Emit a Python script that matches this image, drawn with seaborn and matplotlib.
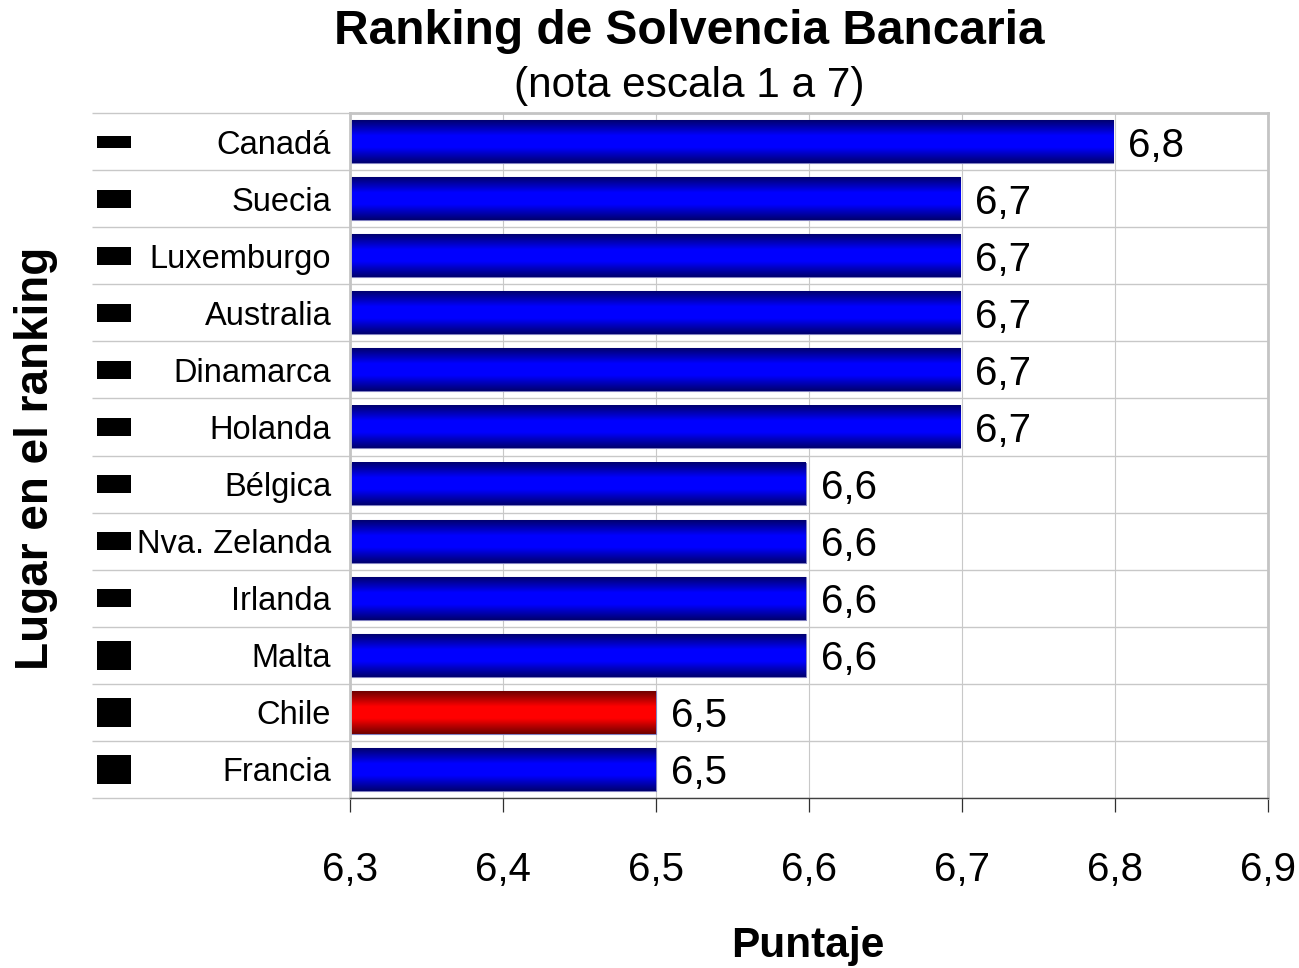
import numpy as np
import pandas as pd
import matplotlib
matplotlib.use("Agg")
import matplotlib.pyplot as plt
from matplotlib.colors import LinearSegmentedColormap
from matplotlib.patches import Rectangle
from matplotlib.ticker import FuncFormatter, FixedLocator
import seaborn as sns

countries = ["Canadá", "Suecia", "Luxemburgo", "Australia", "Dinamarca", "Holanda",
             "Bélgica", "Nva. Zelanda", "Irlanda", "Malta", "Chile", "Francia"]
scores = [6.799, 6.699, 6.699, 6.699, 6.699, 6.699, 6.598, 6.598, 6.598, 6.598, 6.5, 6.5]
x_ticks = [6.3, 6.4, 6.5, 6.6, 6.7, 6.8, 6.9]
rank_box_px = [12, 18, 18, 18, 18, 18, 18, 18, 18, 29, 29, 29]
highlight = "Chile"

sns.set_theme(style="white")
plt.rcParams["font.family"] = ["Liberation Sans", "DejaVu Sans"]

W, H = 1299, 968
fig = plt.figure(figsize=(W / 100, H / 100), dpi=100, facecolor="white")
L, R, T, B = 350, 1268, 113, 798
ax = fig.add_axes([L / W, 1 - B / H, (R - L) / W, (B - T) / H])

df = pd.DataFrame({"pais": countries, "nota": scores})
palette = {c: ("#ff0000" if c == highlight else "#0000ff") for c in countries}
sns.barplot(data=df, y="pais", x="nota", hue="pais", palette=palette, dodge=False,
            legend=False, width=0.75, ax=ax, zorder=2, edgecolor="#8080c0", linewidth=0.8)
ax.set_xlim(x_ticks[0], x_ticks[-1])
ax.set_ylim(len(countries) - 0.5, -0.5)

blue = LinearSegmentedColormap.from_list(
    "b", [(0, "#000070"), (0.36, "#0000ff"), (0.64, "#0000ff"), (1, "#000070")])
red = LinearSegmentedColormap.from_list(
    "r", [(0, "#700000"), (0.36, "#ff0000"), (0.64, "#ff0000"), (1, "#700000")])
grad = np.linspace(0, 1, 64)[:, None]
for cont, c in zip(ax.containers, countries):
    for p in cont:
        ax.imshow(grad, cmap=red if c == highlight else blue, aspect="auto", zorder=3,
                  extent=[x_ticks[0] + 0.0015, p.get_x() + p.get_width(),
                          p.get_y() + p.get_height(), p.get_y()])
    labels = ax.bar_label(cont, labels=[f"{v:.1f}".replace(".", ",") for v in cont.datavalues],
                          padding=10.8, fontsize=29, color="black", zorder=4)
    for t in labels:
        t.set_va("center_baseline")
ax.set_xlim(x_ticks[0], x_ticks[-1])
ax.set_ylim(len(countries) - 0.5, -0.5)

grid = "#c8c8c8"
ax.xaxis.set_major_locator(FixedLocator(x_ticks))
ax.xaxis.set_major_formatter(FuncFormatter(lambda v, _: f"{v:.1f}".replace(".", ",")))
ax.grid(axis="x", color=grid, lw=0.8, zorder=0)
ax.set_axisbelow(True)
ax.tick_params(axis="x", bottom=True, length=10, width=0.9, color="#303030", labelsize=29,
               pad=28, labelcolor="black")
# row separators run left past the axis
ax.yaxis.set_minor_locator(FixedLocator(np.arange(-0.5, len(countries))))
ax.tick_params(axis="y", which="minor", left=True, length=258 * 0.72, width=1.0, color=grid)
ax.tick_params(axis="y", which="major", left=False, pad=7.5, labelsize=23.5, labelcolor="black")
ax.grid(axis="y", which="minor", color=grid, lw=1.0, zorder=0)
ax.grid(axis="y", which="major", visible=False)

for s in ("top", "right", "left"):
    ax.spines[s].set_color("#c4c4c4")
    ax.spines[s].set_linewidth(2.0)
ax.spines["bottom"].set_color("#404040")
ax.spines["bottom"].set_linewidth(1.0)
ax.set_xlabel("")
ax.set_ylabel("")

# dark rank boxes left of the country names
trans = ax.get_yaxis_transform()
row_px = (B - T) / len(countries)
for i, h in enumerate(rank_box_px):
    hd = h / row_px
    ax.add_patch(Rectangle(((97 - L) / (R - L), i - hd / 2), 34 / (R - L), hd, transform=trans,
                           facecolor="black", edgecolor="none", clip_on=False, zorder=5))

fig.text(689.5 / W, 1 - 32 / H, "Ranking de Solvencia Bancaria", ha="center", va="center",
         fontsize=34.5, fontweight="bold", color="black")
fig.text(689 / W, 1 - 86 / H, "(nota escala 1 a 7)", ha="center", va="center",
         fontsize=30.5, color="black")
fig.text(808 / W, 1 - 946 / H, "Puntaje", ha="center", va="center",
         fontsize=30.5, fontweight="bold", color="black")
fig.text(36 / W, 1 - 458 / H, "Lugar en el ranking", ha="center", va="center", rotation=90,
         fontsize=33, fontweight="bold", color="black")

fig.savefig("out.png", dpi=100, facecolor="white")
